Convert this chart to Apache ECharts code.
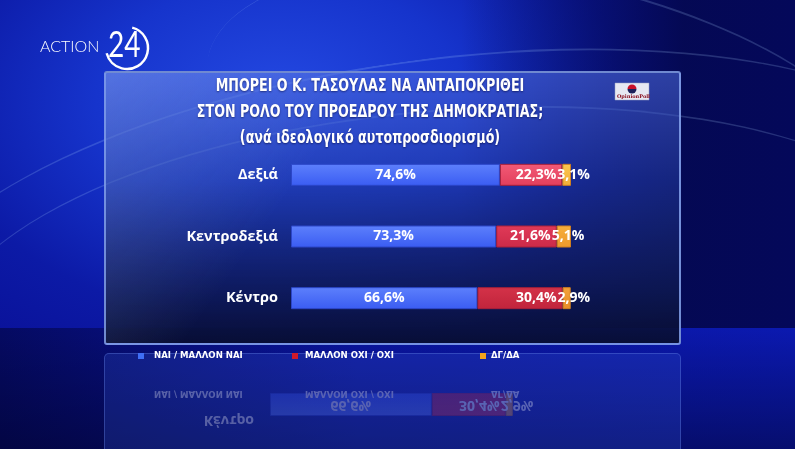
<!DOCTYPE html>
<html>
<head>
<meta charset="utf-8">
<title>Τασούλας - ανά ιδεολογικό αυτοπροσδιορισμό</title>
<script src="https://cdn.jsdelivr.net/npm/echarts@6/dist/echarts.min.js"></script>
<style>
  html, body { margin: 0; padding: 0; }
  body { width: 795px; height: 449px; overflow: hidden; position: relative; background: #070d78; }
  .layer { position: absolute; }
  #sky {
    left: 0; top: 0; width: 795px; height: 328px;
    background:
      linear-gradient(to right, rgba(4,8,80,0) 58%, rgba(4,8,80,0.95) 86%, #04085a 100%),
      radial-gradient(ellipse 460px 300px at 280px 100px, #2449e2 0%, #1634cc 40%, #0c1aa6 75%, #0a129a 100%);
  }
  #floor {
    left: 0; top: 328px; width: 795px; height: 121px;
    background:
      radial-gradient(ellipse 260px 90px at 300px 400px, rgba(40,80,255,0.7), rgba(20,40,220,0) 100%),
      linear-gradient(to right, #050a62 0%, #0a15a0 45%, #0b19b0 100%);
  }
  #floorShade {
    left: 0; top: 328px; width: 795px; height: 121px;
    background: linear-gradient(to bottom, rgba(0,0,40,0) 0%, rgba(0,0,30,0.45) 100%);
  }
  .swoosh { border-radius: 50%; border-top: 2px solid rgba(170,210,255,0.2); }
  #panel {
    left: 104px; top: 71px; width: 573px; height: 270px;
    border: 2px solid rgba(130,160,235,0.85); border-radius: 3px;
    background:
      linear-gradient(125deg, rgba(190,220,255,0.22) 0%, rgba(190,220,255,0) 35%),
      linear-gradient(to bottom, rgba(80,110,225,0.55) 0%, rgba(35,60,160,0.55) 40%, rgba(14,25,80,0.85) 80%, rgba(8,14,50,0.95) 100%);
  }
  #legendPanel {
    left: 104px; top: 353px; width: 575px; height: 110px;
    border: 1px solid rgba(110,140,235,0.35); border-radius: 5px;
    background: rgba(60,95,225,0.22);
  }
  #reflect { left: 0; top: 345px; width: 795px; height: 104px; transform: scaleY(-1); opacity: 0.3; }
  #main { left: 0; top: 0; width: 795px; height: 449px; }
</style>
</head>
<body>
<div class="layer" id="sky"></div>
<div class="layer" id="floor"></div>
<div class="layer" id="floorShade"></div>
<div class="layer swoosh" style="left:-120px;top:60px;width:1100px;height:420px;transform:rotate(-8deg)"></div>
<div class="layer swoosh" style="left:-60px;top:110px;width:1000px;height:380px;transform:rotate(-5deg)"></div>
<div class="layer swoosh" style="left:200px;top:-20px;width:700px;height:300px;transform:rotate(12deg)"></div>
<div class="layer" id="panel"></div>
<div class="layer" id="legendPanel"></div>
<div class="layer" id="reflect"></div>
<div class="layer" id="main"></div>
<script>
// data
var categories = ["Δεξιά", "Κεντροδεξιά", "Κέντρο"];
var yesValues = [74.6, 73.3, 66.6];
var noValues = [22.3, 21.6, 30.4];
var dkValues = [3.1, 5.1, 2.9];
var seriesNames = ["ΝΑΙ / ΜΑΛΛΟΝ ΝΑΙ", "ΜΑΛΛΟΝ ΟΧΙ / ΟΧΙ", "ΔΓ/ΔΑ"];
var titleLines = ["ΜΠΟΡΕΙ Ο Κ. ΤΑΣΟΥΛΑΣ ΝΑ ΑΝΤΑΠΟΚΡΙΘΕΙ", "ΣΤΟΝ ΡΟΛΟ ΤΟΥ ΠΡΟΕΔΡΟΥ ΤΗΣ ΔΗΜΟΚΡΑΤΙΑΣ;", "(ανά ιδεολογικό αυτοπροσδιορισμό)"];

// colours (per row shades for the red / orange parts)
var legendColors = ["#3f6ef5", "#d01a2a", "#f5a31c"];
var blueShade = ["#5d80fc", "#3a5cf2"];
var redShades = [["#f25a76", "#e23e5c"], ["#e03a58", "#cc2a48"], ["#d43248", "#c0243c"]];
var dkShades = [["#fbc650", "#f2ae38"], ["#f6ae3c", "#ee9a2c"], ["#f2a23a", "#e88e28"]];

var labelFont = "'Open Sans', 'DejaVu Sans', sans-serif";

function grad(c) {
    return new echarts.graphic.LinearGradient(0, 0, 0, 1, [
        {offset: 0, color: c[0]},
        {offset: 1, color: c[1]}
    ]);
}
function pct(v) {
    return v.toFixed(1).replace(".", ",") + "%";
}
function labelStyle(extra) {
    var s = {
        show: true,
        color: "#fff",
        fontFamily: labelFont,
        fontWeight: "bold",
        fontSize: 14,
        formatter: function (p) { return pct(p.value); }
    };
    for (var k in extra) s[k] = extra[k];
    return s;
}

function buildSeries(rows, barWidth) {
    return [
        {
            name: seriesNames[0], type: "bar", stack: "all", barWidth: barWidth,
            itemStyle: {color: legendColors[0]},
            label: labelStyle({position: "inside"}),
            data: rows.map(function (i) {
                return {value: yesValues[i], itemStyle: {color: grad(blueShade), borderColor: "#2c46c8", borderWidth: 1}};
            })
        },
        {
            name: seriesNames[1], type: "bar", stack: "all", barWidth: barWidth,
            itemStyle: {color: legendColors[1]},
            label: labelStyle({position: "insideRight", distance: 6}),
            data: rows.map(function (i) {
                return {value: noValues[i], itemStyle: {color: grad(redShades[i]), borderColor: "#a8203a", borderWidth: 1}};
            })
        },
        {
            name: seriesNames[2], type: "bar", stack: "all", barWidth: barWidth,
            itemStyle: {color: legendColors[2]},
            // text starts a little before the orange segment, as on the TV graphic
            label: labelStyle({position: [-5, "50%"], align: "left", verticalAlign: "middle"}),
            data: rows.map(function (i) {
                return {value: dkValues[i], itemStyle: {color: grad(dkShades[i]), borderColor: "#d08020", borderWidth: 1}};
            })
        }
    ];
}

function buildLegends(top, hideIcon) {
    var lefts = [138, 292, 480];
    var pads = [5, 2, 0];
    return seriesNames.map(function (name, i) {
        return {
            left: lefts[i], top: top, padding: 0,
            data: [name],
            icon: "rect", itemWidth: 6, itemHeight: 6,
            itemStyle: hideIcon ? {opacity: 0} : {},
            selectedMode: false,
            textStyle: {
                color: "#fff", fontSize: 9.5, fontWeight: "bold",
                fontFamily: "'DejaVu Sans Condensed', sans-serif",
                padding: [0, 0, 0, pads[i]]
            }
        };
    });
}

var allRows = [0, 1, 2];
var chart = echarts.init(document.getElementById("main"));
chart.setOption({
    animation: false,
    backgroundColor: "transparent",
    legend: buildLegends(351, false),
    grid: {left: 291, width: 280, top: 144, height: 185},
    xAxis: {type: "value", min: 0, max: 100, show: false},
    yAxis: {
        type: "category", inverse: true, data: categories,
        axisLine: {show: false}, axisTick: {show: false},
        axisLabel: {color: "#fff", fontFamily: labelFont, fontWeight: "bold", fontSize: 14.5, margin: 13}
    },
    series: buildSeries(allRows, 22),
    graphic: [
        // title, squeezed horizontally like the condensed broadcast font
        {type: "text", x: 370, y: 74, scaleX: 0.83, z: 10,
         style: {text: titleLines.join("\n"), textAlign: "center", fill: "#fff", lineHeight: 26,
                 font: "bold 17px 'DejaVu Sans Condensed', sans-serif",
                 textShadowColor: "rgba(0,0,40,0.5)", textShadowBlur: 2, textShadowOffsetY: 1}},
        {type: "text", left: 40, top: 39, style: {text: "ACTION", fill: "#fff", font: "300 16px Lato, 'Open Sans', sans-serif"}},
        {type: "text", x: 108, y: 27, scaleX: 0.78, style: {text: "24", fill: "#fff", font: "normal 36px Lato, 'Open Sans', sans-serif"}},
        {type: "arc", shape: {cx: 127, cy: 48, r: 21, startAngle: -Math.PI * 0.42, endAngle: Math.PI * 0.92, clockwise: true},
         style: {stroke: "#fff", lineWidth: 2.5, fill: null}},
        {type: "rect", shape: {x: 615, y: 83, width: 34, height: 17}, style: {fill: "#e6e8f2", stroke: "#9aa0c0", lineWidth: 0.5}},
        {type: "sector", shape: {cx: 632, cy: 89, r: 4.5, startAngle: Math.PI, endAngle: Math.PI * 2}, style: {fill: "#c8102a"}},
        {type: "sector", shape: {cx: 632, cy: 89, r: 4.5, startAngle: 0, endAngle: Math.PI}, style: {fill: "#1a1f5a"}},
        {type: "text", left: 617, top: 94, style: {text: "OpinionPoll", fill: "#8a1020", font: "bold 5px 'DejaVu Serif', serif"}}
    ]
});

// floor reflection of the last row and the legend
var lastRow = [categories.length - 1];
var refl = echarts.init(document.getElementById("reflect"));
refl.setOption({
    animation: false,
    backgroundColor: "transparent",
    legend: buildLegends(51, true),
    grid: {left: 270, width: 243, top: 33, height: 23},
    xAxis: {type: "value", min: 0, max: 100, show: false},
    yAxis: {
        type: "category", inverse: true, data: lastRow.map(function (i) { return categories[i]; }),
        axisLine: {show: false}, axisTick: {show: false},
        axisLabel: {color: "#fff", fontFamily: labelFont, fontWeight: "bold", fontSize: 14, margin: 16,
                    verticalAlign: "bottom", padding: [0, 0, 8, 0]}
    },
    series: buildSeries(lastRow, 23)
});
</script>
</body>
</html>
